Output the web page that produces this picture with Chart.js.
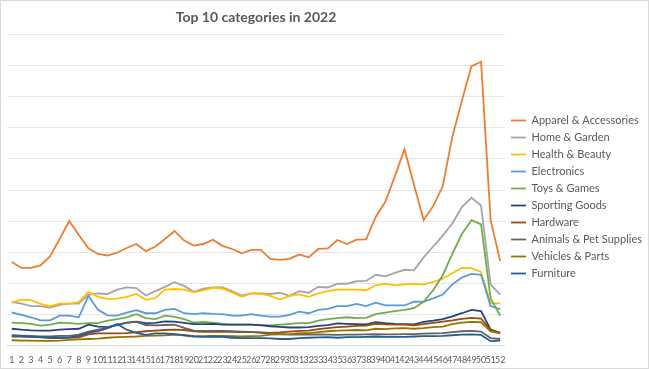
<!DOCTYPE html>
<html>
<head>
<meta charset="utf-8">
<script src="https://cdn.jsdelivr.net/npm/chart.js@4/dist/chart.umd.min.js"></script>
<style>
  html, body { margin: 0; padding: 0; background: #fff; }
  #wrap { width: 649px; height: 369px; position: relative; }
</style>
</head>
<body>
<div id="wrap"><canvas id="c" width="649" height="369"></canvas></div>
<script>
const weeks = Array.from({length: 52}, (_, i) => String(i + 1));

const apparel = [26.8,24.9,24.9,25.7,28.7,34.2,40.0,35.5,31.2,29.4,28.9,29.8,31.3,32.6,30.3,31.8,34.2,36.8,33.7,32.1,32.6,34.0,32.0,31.0,29.6,30.7,30.7,27.8,27.5,27.8,29.2,28.3,31.0,31.2,33.9,32.6,34.0,34.1,41.3,46.2,54.4,63.1,51.7,40.3,44.8,51.2,67.1,78.8,89.9,91.3,40.3,27.1];
const homeGarden = [14.0,13.4,12.6,12.6,12.1,13.0,13.4,13.4,16.2,16.7,16.5,17.9,18.6,18.4,16.0,17.4,18.8,20.3,19.1,17.2,18.2,18.6,18.6,17.4,16.0,16.7,16.7,16.5,16.9,15.9,17.4,16.9,18.8,18.6,19.8,19.8,20.6,20.7,22.7,22.2,23.3,24.3,24.1,28.3,31.8,35.3,39.2,44.5,47.5,45.0,19.6,16.3];
const healthBeauty = [13.7,14.7,14.5,13.3,12.6,13.4,13.4,13.9,17.2,15.6,14.9,15.0,15.6,16.5,14.6,15.2,17.9,18.1,17.9,17.0,17.7,18.5,18.2,17.0,15.6,16.7,16.5,15.9,14.7,15.9,16.4,15.6,16.7,17.4,17.9,17.9,17.9,17.7,19.3,19.8,19.3,19.6,19.8,19.5,20.4,21.4,23.2,24.9,24.8,23.6,13.5,13.5];
const electronics = [10.6,9.8,9.0,8.0,8.0,9.5,9.5,9.0,15.9,11.4,9.6,9.5,10.5,11.3,10.3,10.3,11.4,11.7,10.3,10.0,10.3,10.1,10.0,9.5,9.5,10.0,9.5,9.2,9.2,9.8,10.8,10.3,11.4,11.7,12.6,12.6,13.3,12.6,13.7,12.8,12.8,12.8,14.0,14.0,15.1,16.3,19.6,21.8,23.0,22.7,12.6,11.6];
const toysGames = [7.3,7.1,6.9,6.3,6.6,7.3,7.1,6.9,7.1,7.1,7.9,8.4,9.0,10.0,8.7,8.4,9.5,9.1,8.4,7.3,7.5,7.3,6.9,6.6,6.6,6.6,6.4,6.4,6.6,6.9,7.1,7.1,7.9,8.4,8.7,9.0,8.7,8.8,10.0,10.5,11.0,11.4,11.9,14.0,17.7,22.5,29.4,35.8,40.3,38.9,15.1,9.5];
const sportingGoods = [5.3,5.0,4.8,4.7,4.7,5.0,5.2,5.3,6.6,6.0,5.8,6.5,7.3,7.6,7.1,7.2,7.7,7.6,7.2,6.8,6.8,6.9,6.6,6.6,6.6,6.6,6.5,6.1,5.9,5.7,5.7,5.8,6.2,6.5,7.0,6.9,6.8,6.7,7.4,7.1,6.9,6.8,6.7,7.5,7.9,8.4,9.3,10.3,11.4,11.0,5.0,4.0];
const hardware = [2.8,2.8,2.7,2.5,2.3,2.3,2.4,2.5,3.5,3.8,3.8,3.8,3.9,4.2,4.5,4.7,4.9,5.0,4.9,4.5,4.3,4.3,4.4,4.3,4.2,4.2,4.1,4.0,4.1,4.4,4.6,4.7,5.2,5.5,5.8,6.0,6.2,6.3,6.9,6.7,6.6,6.6,6.4,6.8,7.2,7.6,8.0,8.5,8.8,8.6,4.8,4.0];
const animalsPets = [3.2,3.1,3.0,2.8,2.8,3.0,3.0,3.4,4.4,5.0,5.6,6.6,7.2,7.5,6.5,6.4,6.5,6.6,5.6,4.7,4.6,4.6,4.6,4.5,4.4,4.3,4.0,3.8,3.6,3.4,3.5,3.4,3.5,3.4,3.3,3.4,3.4,3.5,3.6,3.5,3.5,3.6,3.6,3.7,3.8,3.9,4.2,4.5,4.6,4.4,2.3,2.0];
const vehicles = [1.6,1.5,1.5,1.4,1.4,1.5,1.7,1.9,2.0,2.1,2.4,2.6,2.7,2.8,3.0,3.1,3.2,3.4,3.2,2.9,2.9,3.0,3.0,2.9,2.8,2.9,3.0,3.4,3.5,3.6,3.9,3.9,4.2,4.5,4.7,4.8,4.9,4.8,5.3,5.2,5.4,5.5,5.3,5.5,5.8,6.0,6.8,7.3,7.5,7.4,4.4,3.8];
const furniture = [2.9,2.9,2.7,2.6,2.5,2.4,2.5,3.0,4.0,4.5,5.5,6.8,5.0,4.0,3.3,3.8,3.8,3.6,3.2,2.8,2.7,2.8,2.7,2.4,2.3,2.3,2.3,2.2,2.0,2.0,2.3,2.4,2.5,2.6,2.4,2.6,2.6,2.7,2.8,2.7,2.7,2.7,2.8,2.9,2.9,3.0,3.2,3.4,3.5,3.3,1.3,1.5];

const seriesNames = ["Apparel & Accessories","Home & Garden","Health & Beauty","Electronics","Toys & Games","Sporting Goods","Hardware","Animals & Pet Supplies","Vehicles & Parts","Furniture"];
const seriesData = [apparel, homeGarden, healthBeauty, electronics, toysGames, sportingGoods, hardware, animalsPets, vehicles, furniture];
const seriesColors = ["#ED7D31","#A5A5A5","#FFC000","#5B9BD5","#70AD47","#264478","#9E480E","#636363","#997300","#255E91"];

const FONT = "Lato, 'Open Sans', sans-serif";

const borderPlugin = {
  id: 'outerBorder',
  beforeDraw(chart) {
    const ctx = chart.ctx;
    ctx.save();
    ctx.fillStyle = '#fff';
    ctx.fillRect(0, 0, chart.width, chart.height);
    ctx.restore();
  },
  afterDraw(chart) {
    const ctx = chart.ctx;
    ctx.save();
    ctx.strokeStyle = '#D9D9D9';
    ctx.lineWidth = 1;
    ctx.strokeRect(0.5, 0.5, chart.width - 1, chart.height - 1);
    ctx.restore();
  }
};

new Chart(document.getElementById('c'), {
  type: 'line',
  data: {
    labels: weeks,
    datasets: seriesNames.map((n, i) => ({
      label: n,
      data: seriesData[i],
      borderColor: seriesColors[i],
      backgroundColor: seriesColors[i],
      borderWidth: 1.8,
      pointRadius: 0,
      tension: 0,
      fill: false
    })).reverse()
  },
  options: {
    responsive: false,
    animation: false,
    devicePixelRatio: 1,
    layout: { padding: { left: 7, right: -3, top: 0, bottom: 3 } },
    plugins: {
      title: {
        display: true,
        text: 'Top 10 categories in 2022',
        color: '#595959',
        font: { family: FONT, size: 14, weight: 'bold' },
        padding: { top: 9, bottom: 9 },
        fullSize: false
      },
      legend: {
        position: 'right',
        reverse: true,
        title: {
          display: true,
          text: ' ',
          font: { family: FONT, size: 10 },
          padding: 8
        },
        labels: {
          color: '#595959',
          font: { family: FONT, size: 11 },
          usePointStyle: true,
          pointStyle: 'line',
          pointStyleWidth: 15,
          boxHeight: 11,
          padding: 6
        }
      },
      tooltip: { enabled: false }
    },
    scales: {
      x: {
        offset: true,
        grid: { display: false },
        border: { display: true, color: '#D9D9D9' },
        ticks: {
          autoSkip: false,
          maxRotation: 0,
          minRotation: 0,
          color: '#595959',
          font: { family: FONT, size: 9 },
          padding: 1
        }
      },
      y: {
        min: 0,
        max: 100,
        ticks: { display: false, stepSize: 10 },
        border: { display: false },
        grid: { color: '#E6E6E6', lineWidth: 1, drawTicks: false }
      }
    }
  },
  plugins: [borderPlugin]
});
</script>
</body>
</html>
